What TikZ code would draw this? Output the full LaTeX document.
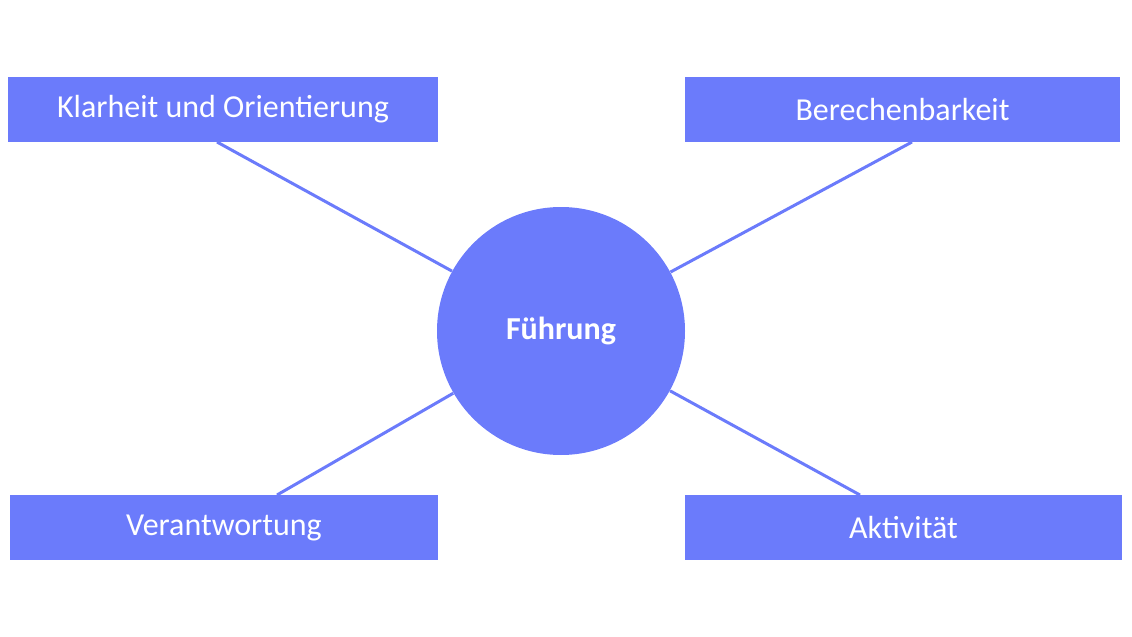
\documentclass[tikz,border=0pt]{standalone}
\usepackage{fontspec}
\setmainfont{Carlito}
\definecolor{fb}{HTML}{6B7BFB}
\begin{document}
\begin{tikzpicture}[x=0.5pt,y=-0.5pt,
  box/.style={fill=fb,text=white,minimum width=#1*0.5pt,minimum height=32.5pt,inner sep=0pt,font=\fontsize{16}{19}\selectfont},
  conn/.style={draw=fb,line width=1.5pt}]
\useasboundingbox (0,0) rectangle (1132,637);
\node[circle,fill=fb,minimum size=124pt,inner sep=0pt,text=white,font=\fontsize{16}{19}\selectfont\bfseries] (c) at (561,331) {Führung};
\node[box=430] (a) at (223,109.5) {Klarheit und Orientierung};
\node[box=435] (b) at (902.5,109.5) {Berechenbarkeit};
\node[box=428] (d) at (224,527.5) {Verantwortung};
\node[box=437] (e) at (903.5,527.5) {Aktivität};
\coordinate (a1) at (217,142);
\coordinate (b1) at (912,142);
\coordinate (d1) at (277,495);
\coordinate (e1) at (860,495);
\draw[conn] (a1) -- (c);
\draw[conn] (b1) -- (c);
\draw[conn] (d1) -- (c);
\draw[conn] (e1) -- (c);
\end{tikzpicture}
\end{document}
